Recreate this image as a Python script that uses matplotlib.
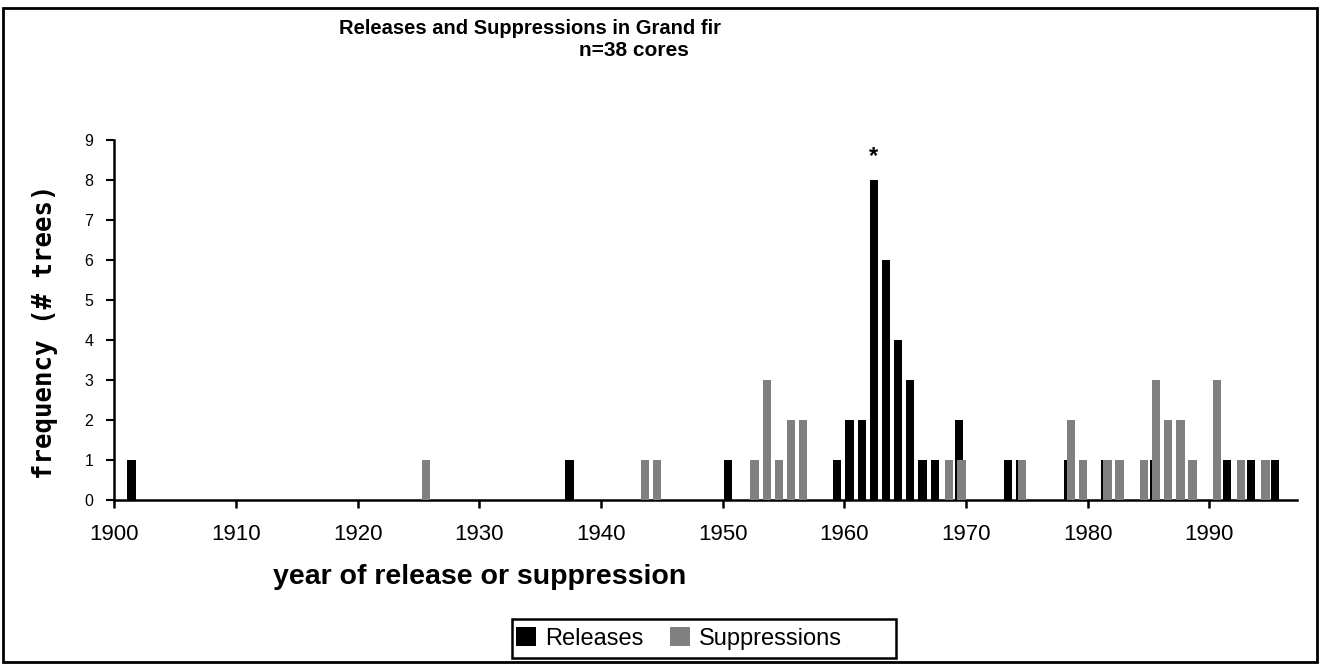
import matplotlib
matplotlib.use("Agg")
import matplotlib.pyplot as plt
from matplotlib.patches import Rectangle

# data
release_years = [1901, 1937, 1950, 1959, 1960, 1961, 1962, 1963, 1964, 1965, 1966,
                 1967, 1969, 1973, 1974, 1978, 1981, 1985, 1991, 1993, 1995]
release_counts = [1, 1, 1, 1, 2, 2, 8, 6, 4, 3, 1,
                  1, 2, 1, 1, 1, 1, 1, 1, 1, 1]
suppression_years = [1925, 1943, 1944, 1952, 1953, 1954, 1955, 1956, 1968, 1969,
                     1974, 1978, 1979, 1981, 1982, 1984, 1985, 1986, 1987, 1988,
                     1990, 1992, 1994]
suppression_counts = [1, 1, 1, 1, 3, 1, 2, 2, 1, 1,
                      1, 2, 1, 1, 1, 1, 3, 2, 2, 1,
                      3, 1, 1]
x_ticks = list(range(1900, 2000, 10))
y_ticks = list(range(0, 10))

plt.rcParams['font.family'] = ['Liberation Sans', 'DejaVu Sans']

W, H = 1320, 665
fig = plt.figure(figsize=(W / 100, H / 100), dpi=100)

# axes placed in pixel terms
x0, x1 = 114.3, 1297
y0, y1 = 500, 140
ax = fig.add_axes([x0 / W, (H - y0) / H, (x1 - x0) / W, (y0 - y1) / H])

bw = 0.68
ax.bar([y + 0.42 for y in release_years], release_counts, width=bw,
       color="black", label="Releases", zorder=2)
ax.bar([y + 0.62 for y in suppression_years], suppression_counts, width=bw,
       color="#808080", label="Suppressions", zorder=3)

ax.set_xlim(1900, 1997.2)
ax.set_ylim(0, 9)
ax.set_xticks(x_ticks)
ax.set_yticks(y_ticks)
ax.tick_params(axis="x", direction="out", length=6, width=1.8, labelsize=16, pad=11)
ax.tick_params(axis="y", direction="out", length=6, width=1.5, labelsize=11.5, pad=9)
for s in ["top", "right"]:
    ax.spines[s].set_visible(False)
for s in ["left", "bottom"]:
    ax.spines[s].set_linewidth(1.8)

# asterisk over the peak
ax.text(1962 + 0.42, 8.3, "*", ha="center", va="bottom", fontsize=17, fontweight="bold")

fig.text(530 / W, 1 - 28 / H, "Releases and Suppressions in Grand fir",
         ha="center", va="center", fontsize=14.5, fontweight="bold")
fig.text(634 / W, 1 - 50 / H, "n=38 cores",
         ha="center", va="center", fontsize=15, fontweight="bold")
fig.text(480 / W, 1 - 577 / H, "year of release or suppression",
         ha="center", va="center", fontsize=20.5, fontweight="bold")
fig.text(45 / W, 1 - 332 / H, "frequency (# trees)", rotation=90,
         ha="center", va="center", fontsize=18.5, fontweight="bold",
         family="DejaVu Sans Mono")

# legend without its own frame; the box is drawn separately (extra room on the right)
leg = fig.legend(loc="center left", bbox_to_anchor=(516 / W, 1 - 638.5 / H), ncol=2,
                 fontsize=17, frameon=False,
                 handlelength=0.85, handleheight=0.85, handletextpad=0.4,
                 columnspacing=1.1, borderpad=0, borderaxespad=0)
fig.patches.append(Rectangle((512 / W, 1 - 658 / H), 384 / W, 39 / H,
                             transform=fig.transFigure, fill=False,
                             edgecolor="black", linewidth=1.8))

fig.patches.append(Rectangle((3 / W, 3 / H), 1314 / W, 654 / H, transform=fig.transFigure,
                             fill=False, edgecolor="black", linewidth=2))

fig.savefig("out.png", dpi=100)
